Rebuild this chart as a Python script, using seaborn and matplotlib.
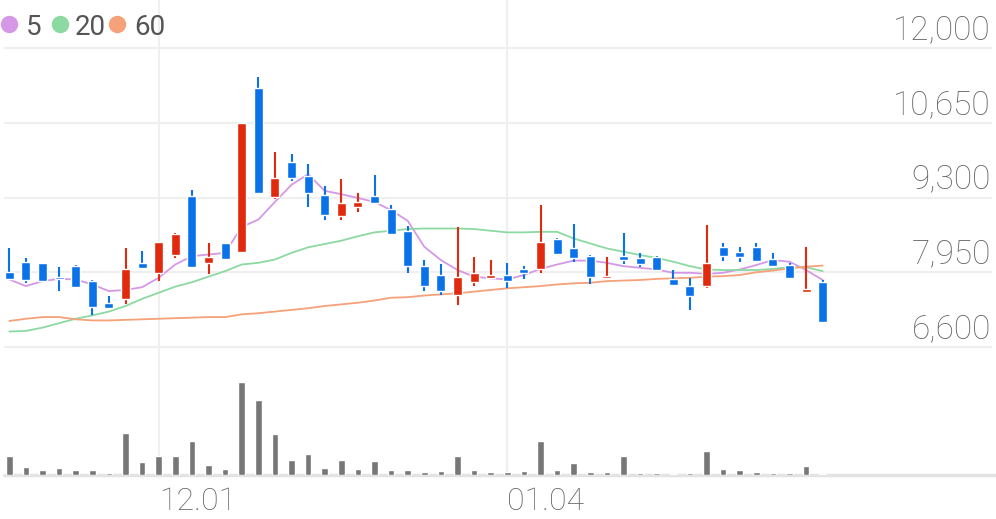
import numpy as np
import pandas as pd
import matplotlib
matplotlib.use('Agg')
import matplotlib.pyplot as plt
import seaborn as sns

# daily candles (KRW)
opens = [7960, 8130, 8110, 7850, 8070, 7800, 7390, 7460, 8120, 7940,
         8270, 9330, 8120, 8470, 8310, 11280, 9310, 9950, 9680, 9350,
         8970, 9130, 9330, 9090, 8700, 8060, 7900, 7540, 7780, 7850,
         7900, 8000, 8010, 8550, 8390, 8240, 7850, 8250, 8200, 8220,
         7820, 7710, 7700, 8410, 8320, 8400, 8190, 8080, 7590, 7780]
highs = [8390, 8200, 8120, 8050, 8080, 7810, 7530, 8390, 8340, 8490,
         8650, 9430, 8470, 8480, 10650, 11470, 10130, 10080, 9910, 9510,
         9630, 9380, 9710, 9160, 8790, 8180, 8100, 8770, 8220, 8180,
         8110, 8060, 9170, 8570, 8830, 8270, 8230, 8650, 8300, 8240,
         7990, 7840, 8800, 8480, 8410, 8470, 8300, 8120, 8410, 7810]
lows = [7820, 7760, 7790, 7610, 7680, 7180, 7300, 7380, 8030, 7800,
        8210, 8050, 7920, 8190, 8290, 9360, 9270, 9590, 9130, 8890,
        8890, 9030, 9200, 8640, 7930, 7620, 7540, 7360, 7700, 7850,
        7660, 7820, 7940, 8280, 8140, 7740, 7850, 8100, 8050, 7990,
        7720, 7270, 7660, 8150, 8130, 8160, 8060, 7840, 7590, 7060]
closes = [7820, 7810, 7800, 7820, 7680, 7320, 7300, 8000, 8030, 8490,
          8640, 8050, 8230, 8190, 10640, 9380, 9650, 9650, 9380, 8980,
          9200, 9220, 9200, 8640, 8060, 7700, 7610, 7860, 7940, 7900,
          7800, 7940, 8500, 8280, 8210, 7860, 7880, 8170, 8100, 7990,
          7720, 7520, 8110, 8240, 8220, 8160, 8060, 7840, 7650, 7060]
volumes = [190, 83, 53, 73, 47, 47, 23, 423, 127, 187,
           193, 343, 100, 63, 930, 750, 407, 150, 210, 70,
           150, 57, 143, 53, 53, 33, 43, 193, 50, 27,
           33, 40, 337, 47, 120, 30, 30, 190, 20, 17,
           13, 17, 240, 60, 50, 33, 17, 20, 87, 13]

# moving averages as drawn
ma5 = [7820, 7700, 7790, 7830, 7820, 7730, 7610, 7630, 7680, 7850,
       8090, 8240, 8270, 8300, 8770, 8900, 9220, 9530, 9720, 9420,
       9360, 9290, 9220, 9070, 8880, 8410, 8170, 7990, 7870, 7840,
       7820, 7900, 8010, 8090, 8160, 8160, 8120, 8060, 8030, 8000,
       7940, 7940, 7920, 7940, 8000, 8080, 8170, 8140, 7990, 7810]
ma20 = [6880, 6890, 6950, 7030, 7110, 7170, 7240, 7340, 7470, 7580,
        7690, 7770, 7870, 7970, 8090, 8120, 8180, 8300, 8400, 8460,
        8520, 8600, 8670, 8700, 8730, 8740, 8740, 8740, 8730, 8700,
        8670, 8670, 8680, 8680, 8560, 8470, 8380, 8320, 8260, 8210,
        8140, 8060, 8000, 7990, 7990, 7990, 8010, 8040, 8040, 7970]
ma60 = [7070, 7110, 7140, 7140, 7100, 7080, 7080, 7090, 7100, 7110,
        7120, 7130, 7140, 7140, 7190, 7210, 7240, 7270, 7300, 7340,
        7370, 7400, 7440, 7490, 7500, 7530, 7550, 7570, 7600, 7630,
        7660, 7680, 7700, 7730, 7750, 7760, 7790, 7800, 7810, 7830,
        7840, 7850, 7870, 7880, 7900, 7950, 7980, 8020, 8050, 8070]

price_ticks = [12000, 10650, 9300, 7950, 6600]
date_ticks = [9, 30]
date_labels = ['12.01', '01.04']
ma_names = ['5', '20', '60']
ma_colors = ['#d598e6', '#8cd9a1', '#f5a17a']

UP = '#e12a0d'
DOWN = '#0a72e8'
GRID = '#efefef'
TXT = '#666666'

sns.set_style('white')
plt.rcParams['font.family'] = ['Roboto', 'DejaVu Sans']

W, H = 996, 519
fig = plt.figure(figsize=(W / 100, H / 100), dpi=100)
# price panel: pixel rows 0..355, volume panel: 355..475
ax = fig.add_axes([0, (H - 355) / H, 1, 355 / H])
axv = fig.add_axes([0, (H - 475) / H, 1, 120 / H])

step = 16.6
x0 = 9.3
xlim = (-x0 / step, (W - x0) / step)
scale = 5400 / 299  # won per pixel
ax.set_ylim(6600 - 8 * scale, 6600 + 347 * scale)

df = pd.DataFrame({'idx': np.arange(len(opens)), 'open': opens, 'high': highs,
                   'low': lows, 'close': closes, 'vol': volumes,
                   'ma5': ma5, 'ma20': ma20, 'ma60': ma60})

# grid
for p in price_ticks:
    ax.axhline(p, xmin=5 / W, xmax=991 / W, color=GRID, lw=1.5, zorder=0)
for t in date_ticks:
    ax.axvline(t, color=GRID, lw=1.5, zorder=0)
    axv.axvline(t, color=GRID, lw=1.5, zorder=0)

# moving averages
for col, c in zip(['ma5', 'ma20', 'ma60'], ma_colors):
    sns.lineplot(data=df, x='idx', y=col, ax=ax, color=c, lw=1.3, zorder=2)

# candles
cols = [UP if c >= o else DOWN for o, c in zip(df['open'], df['close'])]
body_lo = np.minimum(df['open'], df['close'])
body_h = np.maximum(np.abs(df['close'] - df['open']), 40)
ax.vlines(df['idx'], df['low'], df['high'], colors=cols, lw=1.5, zorder=3)
ax.bar(df['idx'], body_h, bottom=body_lo, width=0.54, color=cols, zorder=4)

# volume
sns.barplot(data=df, x='idx', y='vol', native_scale=True, color='#777777',
            width=0.4, saturation=1, ax=axv, zorder=3)
axv.set_ylim(0, 1200)
axv.axhline(0, color='#e3e3e3', lw=2.5, xmin=4 / W, clip_on=False, zorder=2)

for a in (ax, axv):
    a.set_xlim(*xlim)
    a.set_xlabel('')
    a.set_ylabel('')
    a.set_yticks([])
    sns.despine(ax=a, left=True, bottom=True)
    a.patch.set_alpha(0)
ax.set_xticks([])

axv.set_xticks(date_ticks)
axv.set_xticklabels(date_labels, ha='left', fontsize=23, color=TXT,
                    fontweight='light')
axv.tick_params(axis='x', length=0, pad=9)

for p in price_ticks:
    ax.annotate(f'{p:,}', xy=(991 / W, p), xycoords=ax.get_yaxis_transform(),
                xytext=(0, 9), textcoords='offset pixels', ha='right',
                va='baseline', fontsize=24, color=TXT, fontweight='light')

# legend row
lx = [9, 60, 117]
tx = [26, 75, 134]
for px, tpx, name, c in zip(lx, tx, ma_names, ma_colors):
    fig.add_artist(plt.Line2D([px / W], [1 - 24 / H], marker='o', ms=11.5,
                              color=c, lw=0, transform=fig.transFigure))
    fig.text(tpx / W, 1 - 35 / H, name, fontsize=20, color='#555555',
             va='baseline')

fig.savefig('out.png', dpi=100)
